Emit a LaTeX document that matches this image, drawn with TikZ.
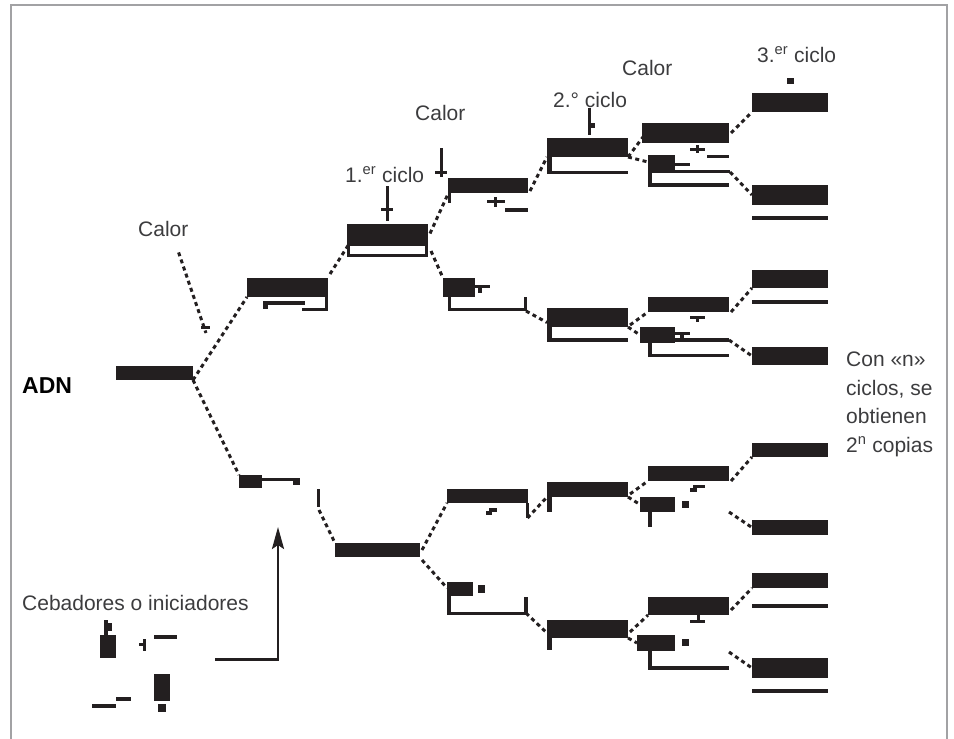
\documentclass[tikz,border=0pt]{standalone}
\usepackage{fontspec}
\setmainfont{Liberation Sans}
\usetikzlibrary{fit,calc,arrows.meta}
\definecolor{ink}{HTML}{231F20}
\definecolor{captiongray}{HTML}{3C3C3E}
\definecolor{framegray}{HTML}{A2A2A4}
\tikzset{
  strandfill/.style={fill=ink, draw=none, rectangle, inner sep=0pt, outer sep=0pt},
  link/.style={draw=ink, line width=3pt, dash pattern=on 4pt off 3.5pt},
  stem/.style={draw=ink, line width=3pt},
  caption/.style={text=captiongray, font=\fontsize{21}{25}\selectfont, inner sep=0pt, anchor=base west},
  borderline/.style={draw=framegray, line width=2.6pt},
  pointer/.style={draw=ink, line width=2.6pt, -{Stealth[length=22pt,width=12pt,inset=4pt]}},
}
% a DNA strand segment as a named filled node spanning two corners
\newcommand\strandbar[5]{%
  \coordinate (#1-a) at (#2,#3);%
  \coordinate (#1-b) at (#4,#5);%
  \node[strandfill, fit=(#1-a)(#1-b)] (#1) {};}
% small filled piece (thin strands, brackets, marks)
\newcommand\piece[4]{\fill[ink] (#1,#2) rectangle (#3,#4);}

\begin{document}
\begin{tikzpicture}[x=1pt,y=-1pt]
\useasboundingbox (0,0) rectangle (954,739);
\draw[borderline] (11,739) -- (11,5) -- (947,5) -- (947,739);

% ---------- captions ----------
\node[caption] (heat1) at (138,236) {Calor};
\node[caption] (cycle1) at (345,182) {1.\textsuperscript{er} ciclo};
\node[caption] (heat2) at (415,120) {Calor};
\node[caption] (cycle2) at (553,107) {2.° ciclo};
\node[caption] (heat3) at (622,75) {Calor};
\node[caption] (cycle3) at (757,62) {3.\textsuperscript{er} ciclo};
\node[caption] (note1) at (846,366) {Con «n»};
\node[caption] (note2) at (846,395) {ciclos, se};
\node[caption] (note3) at (846,423) {obtienen};
\node[caption] (note4) at (846,452) {2\textsuperscript{n} copias};
\node[caption] (primers) at (22,610) {Cebadores o iniciadores};
\node[caption, text=black, font=\fontsize{23}{27}\selectfont\bfseries] (dna) at (22,393) {ADN};

% ---------- original DNA ----------
\strandbar{adn}{116}{366}{193}{380}

% heat pointer into the first fork
\coordinate (fork) at (206,333);
\draw[link] ($(heat1.south east)+(-10,16)$) -- (fork);
\piece{201}{325.5}{210}{328.5}

% ---------- first split ----------
\strandbar{u1}{247}{278}{328}{297}
\piece{263}{301}{305}{305}
\piece{263}{305}{268}{309}
\piece{302}{308}{328}{311}
\piece{325}{297}{328}{311}

\strandbar{l1}{239}{475}{262}{488}
\piece{262}{478}{300}{481}
\piece{293}{478}{300}{485}
\piece{317}{489}{320}{507}

\draw[link] (adn.south east) -- (u1.south west);
\draw[link] (adn.south east) -- (l1.north west);

% ---------- 1st cycle ----------
\strandbar{u2}{347}{224}{428}{243}
\draw[draw=ink, line width=3pt] (348.5,244.5) rectangle (426.5,255.5);
\piece{385.5}{186}{388.5}{221}
\piece{381}{208}{393}{211}
\draw[link] ($(u1.north east)+(2,-4)$) -- ($(u2.south west)+(2,1)$);

\strandbar{l2}{335}{543}{420}{557}
\draw[link] (319,510) -- (l2.north west);

% ---------- 2nd level, upper half ----------
\strandbar{u3a}{448}{178}{528}{193}
\piece{448}{193}{451}{203}
\piece{487}{200}{505}{203}
\piece{494}{197}{497}{207}
\piece{505}{208}{528}{212}
\piece{440}{148}{443}{177}
\piece{435}{171}{447}{174}
\draw[link] ($(u2.east)+(2,0)$) -- ($(u3a.south west)+(0,1)$);

\strandbar{u3b}{443}{278}{475}{297}
\piece{475}{285}{490}{288}
\piece{478}{288}{482}{293}
\piece{448}{297}{451}{311}
\piece{448}{308}{527}{311}
\piece{524}{297}{527}{311}
\coordinate (u3b-end) at (526,311);
\draw[link] ($(u2.south east)+(3,8)$) -- (u3b.north west);

% ---------- 2nd level, lower half ----------
\strandbar{l3a}{447}{489}{528}{503}
\piece{489}{508}{497}{512}
\piece{486}{511}{492}{515}
\piece{526}{503}{529}{518}
\coordinate (l3a-end) at (527.5,518);
\draw[link] ($(l2.east)+(2,0)$) -- (l3a.south west);

\strandbar{l3b}{447}{582}{473}{596}
\piece{478}{585}{485}{593}
\piece{447}{596}{451}{615}
\piece{447}{612}{528}{615}
\piece{524}{597}{528}{615}
\coordinate (l3b-end) at (526,613);
\draw[link] ($(l2.south east)+(2,3)$) -- ($(l3b.north west)+(0,6)$);

% ---------- 2nd cycle ----------
\strandbar{p1}{547}{138}{628}{157}
\piece{547}{157}{552}{174}
\piece{547}{171}{628}{174}
\piece{588}{108}{591}{135}
\piece{591}{123}{595}{128}
\draw[link] ($(u3a.south east)+(2,-2)$) -- (p1.south west);

\strandbar{p2}{547}{308}{628}{327}
\piece{547}{327}{552}{342}
\piece{547}{338}{628}{342}
\draw[link] (u3b-end) -- ($(p2.west)+(0,5)$);

\strandbar{p3}{547}{482}{628}{497}
\piece{547}{497}{552}{512}
\draw[link] (l3a-end) -- (p3.south west);

\strandbar{p4}{547}{620}{628}{638}
\piece{547}{638}{552}{650}
\draw[link] (l3b-end) -- ($(p4.west)+(0,4)$);

% ---------- 3rd level ----------
\strandbar{q1u}{642}{123}{729}{143}
\piece{690}{148}{705}{151}
\piece{696}{145}{699}{153}
\piece{707}{155}{729}{158}
\draw[link] (p1.south east) -- ($(q1u.west)+(4,0)$);

\strandbar{q1l}{648}{155}{675}{173}
\piece{675}{163}{690}{166}
\piece{675}{170}{730}{173}
\piece{648}{173}{652}{187}
\piece{648}{183}{729}{187}
\coordinate (q1l-end) at (730,172);
\draw[link] (p1.south east) -- ($(q1l.west)+(0,-2)$);

\strandbar{q2u}{648}{297}{729}{312}
\piece{690}{316}{705}{319}
\piece{696}{319}{699}{322}
\draw[link] ($(p2.south east)+(2,-2)$) -- (q2u.south west);

\strandbar{q2l}{640}{327}{675}{343}
\piece{675}{332}{690}{335}
\piece{680}{335}{684}{339}
\piece{675}{338}{729}{342}
\piece{648}{343}{652}{357}
\piece{648}{354}{729}{357}
\coordinate (q2l-end) at (729,340);
\draw[link] (p2.south east) -- (q2l.west);

\strandbar{q3u}{648}{466}{729}{481}
\piece{693}{485}{705}{488}
\piece{690}{488}{697}{492}
\draw[link] ($(p3.south east)+(2,-3)$) -- (q3u.south west);

\strandbar{q3l}{640}{497}{675}{512}
\piece{682}{501}{689}{508}
\piece{648}{512}{652}{527}
\coordinate (q3l-end) at (729,512);
\draw[link] (p3.south east) -- (q3l.west);

\strandbar{q4u}{648}{597}{729}{615}
\piece{697}{615}{700}{620}
\piece{690}{620}{705}{623}
\draw[link] ($(p4.south east)+(2,-6)$) -- (q4u.south west);

\strandbar{q4l}{637}{635}{675}{651}
\piece{682}{639}{689}{646}
\piece{648}{651}{652}{670}
\piece{648}{666}{729}{670}
\coordinate (q4l-end) at (729,652);
\draw[link] (p4.south east) -- (q4l.west);

% ---------- 3rd cycle ----------
\piece{787}{78}{794}{84}
\strandbar{r1}{752}{93}{828}{112}
\strandbar{r2}{752}{185}{828}{205}
\piece{752}{216}{828}{220}
\strandbar{r3}{752}{270}{828}{288}
\piece{752}{300}{828}{304}
\strandbar{r4}{752}{347}{828}{365}
\strandbar{r5}{752}{443}{828}{457}
\strandbar{r6}{752}{520}{828}{535}
\strandbar{r7}{752}{573}{828}{588}
\piece{752}{604}{828}{608}
\strandbar{r8}{752}{658}{828}{678}
\piece{752}{689}{828}{693}

\draw[link] ($(q1u.east)+(2,0)$) -- (r1.south west);
\draw[link] (q1l-end) -- (r2.west);
\draw[link] ($(q2u.south east)+(2,0)$) -- (r3.south west);
\draw[link] (q2l-end) -- (r4.west);
\draw[link] ($(q3u.south east)+(2,0)$) -- (r5.south west);
\draw[link] (q3l-end) -- (r6.west);
\draw[link] ($(q4u.south east)+(2,-5)$) -- (r7.south west);
\draw[link] (q4l-end) -- (r8.west);

% ---------- primers legend ----------
\piece{100}{635}{116}{658}
\piece{104}{620}{108}{635}
\piece{108}{623}{112}{631}
\piece{139}{643}{143}{646}
\piece{143}{639}{146}{651}
\piece{154}{635}{177}{639}
\piece{92}{704}{116}{708}
\piece{116}{697}{131}{701}
\piece{154}{674}{170}{701}
\piece{158}{704}{166}{712}

\coordinate (legend-start) at (215,659.5);
\coordinate (legend-corner) at (278,659.5);
\coordinate (primer-site) at (278,527);
\draw[pointer] (legend-start) -- (legend-corner) -- (primer-site);
\end{tikzpicture}
\end{document}
